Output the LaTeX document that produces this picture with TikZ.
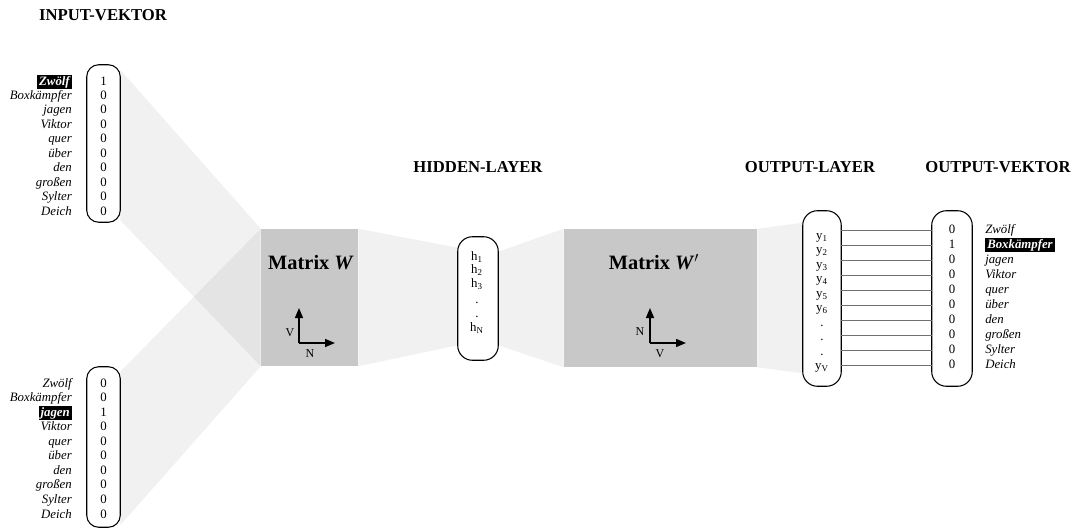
\documentclass[tikz,border=0pt]{standalone}
\usepackage{fontspec}
\setmainfont{Liberation Serif}
\usetikzlibrary{calc,arrows.meta}
\definecolor{matgray}{HTML}{C8C8C8}
\definecolor{linkgray}{HTML}{707070}
\tikzset{
  vecbox/.style={draw,line width=0.8pt,rounded corners=9pt,fill=white,inner sep=0pt},
  matbox/.style={fill=matgray,inner sep=0pt},
  funnel/.style={fill=black,fill opacity=0.055},
  title/.style={font=\bfseries\fontsize{12.5}{15}\selectfont,inner sep=0pt},
  word/.style={font=\itshape\fontsize{9.6}{11}\selectfont,inner sep=0pt},
  rword/.style={word,anchor=mid east},
  lword/.style={word,anchor=mid west},
  rhl/.style={font=\bfseries\itshape\fontsize{9.6}{11}\selectfont,fill=black,text=white,inner xsep=1.5pt,inner ysep=0.8pt,anchor=mid east},
  lhl/.style={font=\bfseries\itshape\fontsize{9.6}{11}\selectfont,fill=black,text=white,inner xsep=1.5pt,inner ysep=0.8pt,anchor=mid west},
  val/.style={font=\fontsize{9.6}{11}\selectfont,inner sep=0pt,anchor=mid},
  mattitle/.style={font=\bfseries\fontsize{15.3}{18}\selectfont,inner sep=0pt},
  axis/.style={line width=1.1pt,-{Triangle[length=7.5pt,width=6pt]}},
  axlabel/.style={font=\fontsize{9}{11}\selectfont,inner sep=0pt},
  link/.style={draw=linkgray,line width=0.6pt},
}
\begin{document}
\begin{tikzpicture}[x=0.75pt,y=-0.75pt]
\useasboundingbox (0,0) rectangle (1075,529);

% titles
\node[title] (tin) at (103,15) {INPUT-VEKTOR};
\node[title] (thid) at (478,167) {HIDDEN-LAYER};
\node[title] (tout) at (810,167) {OUTPUT-LAYER};
\node[title] (tvec) at (998,167) {OUTPUT-VEKTOR};

% boxes (positions only, drawn later)
\path (103.5,143.5) node[minimum width=24.75pt,minimum height=117.75pt,inner sep=0pt] (in1) {};
\path (103.5,447) node[minimum width=24.75pt,minimum height=120pt,inner sep=0pt] (in2) {};
\path (309.5,297.5) node[minimum width=72.75pt,minimum height=102.75pt,inner sep=0pt] (W) {};
\path (478,298.5) node[minimum width=30pt,minimum height=92.25pt,inner sep=0pt] (hid) {};
\path (660.5,298) node[minimum width=144.75pt,minimum height=103.5pt,inner sep=0pt] (Wp) {};
\path (822,298.5) node[minimum width=28.5pt,minimum height=131.25pt,inner sep=0pt] (outl) {};
\path (952,298.5) node[minimum width=30pt,minimum height=131.25pt,inner sep=0pt] (outv) {};

% funnels
\fill[funnel] ($(in1.north east)+(0,5)$) -- (W.north west) -- (W.south west) -- ($(in1.south east)+(0,-2)$) -- cycle;
\fill[funnel] ($(in2.north east)+(0,5)$) -- (W.north west) -- (W.south west) -- ($(in2.south east)+(0,-2)$) -- cycle;
\fill[funnel] (W.north east) -- ($(hid.north west)+(0,11)$) -- ($(hid.south west)+(0,-15)$) -- (W.south east) -- cycle;
\fill[funnel] ($(hid.north east)+(0,15)$) -- (Wp.north west) -- (Wp.south west) -- ($(hid.south east)+(0,-15)$) -- cycle;
\fill[funnel] (Wp.north east) -- ($(outl.north west)+(0,12)$) -- ($(outl.south west)+(0,-13)$) -- (Wp.south east) -- cycle;

% draw boxes
\draw[vecbox] (in1.south west) rectangle (in1.north east);
\draw[vecbox] (in2.south west) rectangle (in2.north east);
\draw[vecbox,rounded corners=11pt] (hid.south west) rectangle (hid.north east);
\draw[vecbox,rounded corners=11pt] (outl.south west) rectangle (outl.north east);
\draw[vecbox,rounded corners=11pt] (outv.south west) rectangle (outv.north east);
\fill[matbox] (W.south west) rectangle (W.north east);
\fill[matbox] (Wp.south west) rectangle (Wp.north east);

% input vector 1
\foreach \w/\v/\s [count=\i from 0] in {Zwölf/1/rhl,Boxkämpfer/0/rword,jagen/0/rword,Viktor/0/rword,quer/0/rword,über/0/rword,den/0/rword,großen/0/rword,Sylter/0/rword,Deich/0/rword} {
  \node[\s] (aw\i) at (72,{82+14.44*\i}) {\w};
  \node[val] (av\i) at (103.5,{82+14.44*\i}) {\v};
}
% input vector 2
\foreach \w/\v/\s [count=\i from 0] in {Zwölf/0/rword,Boxkämpfer/0/rword,jagen/1/rhl,Viktor/0/rword,quer/0/rword,über/0/rword,den/0/rword,großen/0/rword,Sylter/0/rword,Deich/0/rword} {
  \node[\s] (bw\i) at (72,{384+14.55*\i}) {\w};
  \node[val] (bv\i) at (103.5,{384+14.55*\i}) {\v};
}

% matrix W
\node[mattitle] (Wt) at (311,263) {Matrix \textit{W}};
\coordinate (o1) at (299,343);
\coordinate (o1u) at (299,308);
\coordinate (o1r) at (335,343);
\draw[axis] (o1) -- (o1u);
\draw[axis] (o1) -- (o1r);
\node[axlabel] (o1V) at (290,333) {V};
\node[axlabel] (o1N) at (310,354) {N};

% hidden
\node[val] (h1) at (477,257) {h\textsubscript{1}};
\node[val] (h2) at (477,270) {h\textsubscript{2}};
\node[val] (h3) at (477,284) {h\textsubscript{3}};
\node[val] (hd1) at (477,300) {.};
\node[val] (hd2) at (477,314) {.};
\node[val] (hN) at (477,328) {h\textsubscript{N}};

% matrix W'
\node[mattitle] (Wpt) at (654,262) {Matrix \textit{W}$'$};
\coordinate (o2) at (650,343);
\coordinate (o2u) at (650,308);
\coordinate (o2r) at (686,343);
\draw[axis] (o2) -- (o2u);
\draw[axis] (o2) -- (o2r);
\node[axlabel] (o2N) at (640,332) {N};
\node[axlabel] (o2V) at (660,354) {V};

% output layer labels
\foreach \t [count=\i from 0] in {y\textsubscript{1},y\textsubscript{2},y\textsubscript{3},y\textsubscript{4},y\textsubscript{5},y\textsubscript{6},.,.,.,y\textsubscript{V}} {
  \node[val] (y\i) at (822,{236+14.5*\i}) {\t};
}

% output vector
\foreach \w/\v/\s [count=\i from 0] in {Zwölf/0/lword,Boxkämpfer/1/lhl,jagen/0/lword,Viktor/0/lword,quer/0/lword,über/0/lword,den/0/lword,großen/0/lword,Sylter/0/lword,Deich/0/lword} {
  \node[val] (ov\i) at (952,{230+15*\i}) {\v};
  \node[\s] (ow\i) at (985,{230+15*\i}) {\w};
  \draw[link] (outl.east |- ov\i.mid) -- (outv.west |- ov\i.mid);
}
\end{tikzpicture}
\end{document}
